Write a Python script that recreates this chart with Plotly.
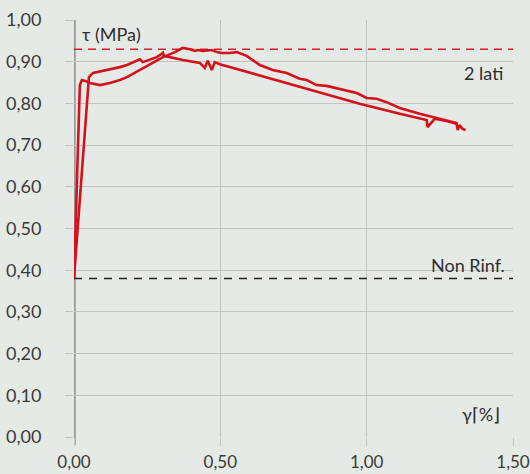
import plotly.graph_objects as go

# curve 1: plateau start, peak near 0.93, wavy decline
gamma_a = [0.0, 0.017, 0.020, 0.027, 0.038, 0.055, 0.089, 0.123, 0.157, 0.181, 0.225, 0.259,
           0.304, 0.345, 0.372, 0.396, 0.413, 0.423, 0.440, 0.471, 0.488, 0.505, 0.532, 0.556,
           0.590, 0.635, 0.679, 0.727, 0.771, 0.795, 0.829, 0.863, 0.918, 0.966, 1.000, 1.034,
           1.068, 1.113, 1.181, 1.225, 1.273, 1.307, 1.311, 1.317, 1.328, 1.338]
tau_a = [0.381, 0.808, 0.844, 0.856, 0.854, 0.849, 0.844, 0.849, 0.856, 0.863, 0.880, 0.892,
         0.911, 0.923, 0.933, 0.930, 0.926, 0.928, 0.926, 0.928, 0.923, 0.921, 0.921, 0.923,
         0.914, 0.892, 0.880, 0.873, 0.859, 0.856, 0.844, 0.842, 0.832, 0.825, 0.813, 0.811,
         0.803, 0.789, 0.775, 0.767, 0.758, 0.753, 0.736, 0.748, 0.739, 0.736]

# curve 2: steeper start, zigzag near 0.47, straight decline
gamma_b = [0.0, 0.048, 0.051, 0.065, 0.113, 0.157, 0.181, 0.225, 0.235, 0.283, 0.304, 0.307,
           0.372, 0.430, 0.447, 0.457, 0.471, 0.481, 0.498, 0.543, 0.601, 0.805, 0.976, 1.113,
           1.181, 1.205, 1.208, 1.222, 1.232, 1.273, 1.307]
tau_b = [0.381, 0.856, 0.863, 0.873, 0.880, 0.887, 0.892, 0.906, 0.899, 0.911, 0.921, 0.914,
         0.904, 0.897, 0.885, 0.902, 0.880, 0.899, 0.894, 0.885, 0.873, 0.832, 0.799, 0.775,
         0.765, 0.760, 0.743, 0.755, 0.763, 0.758, 0.751]

tau_2lati = 0.93
tau_non_rinf = 0.38

red = '#d3121c'
bg = '#e6eae7'
font_name = 'Lato'

fig = go.Figure()
fig.add_trace(go.Scatter(x=[0, 1.5], y=[tau_2lati, tau_2lati], mode='lines',
                         line=dict(color='#c8262e', width=1.5, dash='8px,6px'), showlegend=False))
fig.add_trace(go.Scatter(x=[0, 1.5], y=[tau_non_rinf, tau_non_rinf], mode='lines',
                         line=dict(color='#222222', width=1.5, dash='8px,7px'), showlegend=False))
fig.add_trace(go.Scatter(x=gamma_b, y=tau_b, mode='lines', cliponaxis=False,
                         line=dict(color=red, width=2.6), showlegend=False))
fig.add_trace(go.Scatter(x=gamma_a, y=tau_a, mode='lines', cliponaxis=False,
                         line=dict(color=red, width=2.6), showlegend=False))

# thick left axis bar
fig.add_shape(type='line', xref='x', yref='paper', x0=0, x1=0, y0=-0.02, y1=1.0,
              line=dict(color='#9a9a9a', width=3.5), layer='below')

txt = dict(family=font_name, size=18, color='#2e2e2e')
fig.add_annotation(x=0.02, y=0.966, text='τ (MPa)', showarrow=False, xanchor='left', font=txt)
fig.add_annotation(x=1.471, y=0.873, text='2 lati', showarrow=False, xanchor='right', font=txt)
fig.add_annotation(x=1.478, y=0.412, text='Non Rinf.', showarrow=False, xanchor='right', font=txt)
fig.add_annotation(x=1.461, y=0.055, text='γ⌈%⌋', showarrow=False, xanchor='right', font=txt)

fig.update_layout(
    width=530, height=474,
    margin=dict(l=74, r=17, t=20, b=37),
    paper_bgcolor=bg, plot_bgcolor=bg,
    separators=',.',
    font=dict(family=font_name, size=18, color='#3a3a3a'),
)
fig.update_xaxes(range=[0, 1.5], dtick=0.5, tickformat='.2f', showgrid=True,
                 automargin=False, gridcolor='#c2c4c3', gridwidth=1.2, zeroline=False,
                 ticks='outside', ticklen=8, tickcolor='#c2c4c3', ticklabelstandoff=2,
                 tickfont=dict(size=17), ticklabeloverflow='allow')
fig.update_yaxes(range=[0, 1.0], dtick=0.1, tickformat='.2f', showgrid=True, automargin=False,
                 gridcolor='#c2c4c3', gridwidth=1.2, zeroline=False, ticks='outside',
                 ticklen=8, tickcolor='#c2c4c3', ticklabelstandoff=20,
                 ticklabeloverflow='allow')

fig.write_html("out.html", config={'displayModeBar': False},
               post_script="document.body.style.margin='0';document.body.style.background='%s';" % bg)
